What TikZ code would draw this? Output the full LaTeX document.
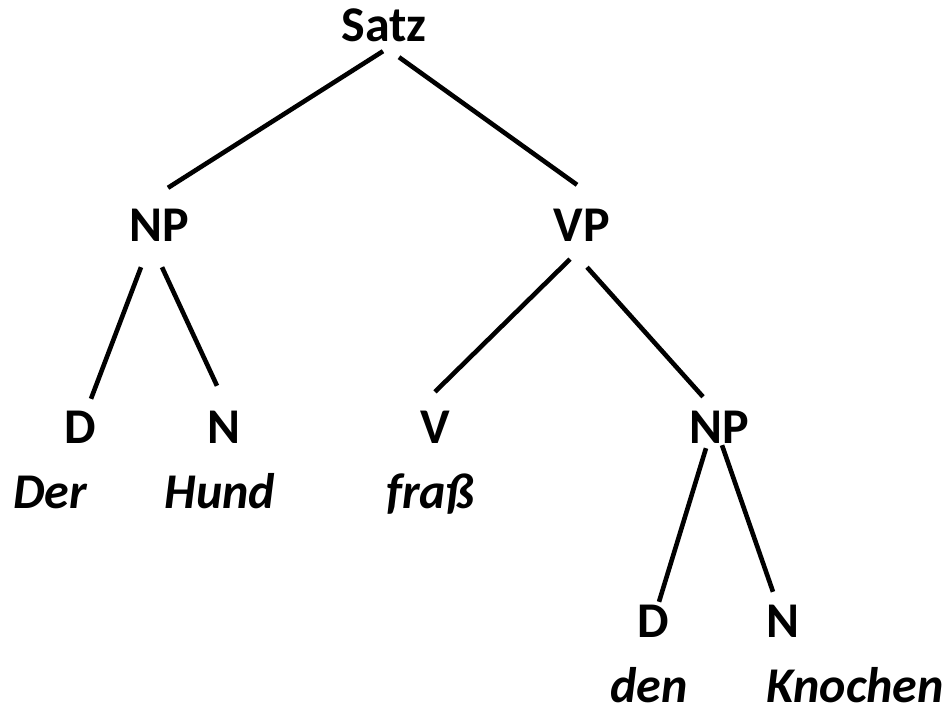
\documentclass[tikz,border=0pt]{standalone}
\usepackage{fontspec}
\setmainfont{Carlito}
\usepackage{tikz}

\tikzset{
  cat/.style={font=\fontsize{50}{60}\selectfont\bfseries, inner sep=0pt, text height=30pt, text depth=0pt, anchor=base},
  word/.style={font=\fontsize{50}{60}\selectfont\bfseries\itshape, inner sep=0pt, text depth=0pt, anchor=base},
  branch/.style={black, line width=4.6pt}
}

\begin{document}
\begin{tikzpicture}[x=1pt, y=-1pt]
\useasboundingbox (0,0) rectangle (947,711);

% CATEGORIES
  \node[cat] (satz) at (384, 42) {Satz};
  \node[cat] (np1)  at (159,242) {NP};
  \node[cat] (vp)   at (582,242) {VP};
  \node[cat] (d1)   at ( 80,443) {D};
  \node[cat] (n1)   at (224,443) {N};
  \node[cat] (v)    at (435,443) {V};
  \node[cat] (np2)  at (719,443) {NP};
  \node[cat] (d2)   at (653,637) {D};
  \node[cat] (n2)   at (783,637) {N};

% WORDS
  \node[word] (der)     at ( 50,508) {Der};
  \node[word] (hund)    at (220,508) {Hund};
  \node[word] (frass)   at (430,508) {fraß};
  \node[word] (den)     at (649,702) {den};
  \node[word] (knochen) at (855,702) {Knochen};

% BRANCHES
  \draw[branch] ([xshift=-1pt,yshift=-9pt]satz.south) -- ([xshift=9pt,yshift=24pt]np1.north);
  \draw[branch] ([xshift=15pt,yshift=-15pt]satz.south) -- ([xshift=-5pt,yshift=27pt]vp.north);

  \draw[branch] ([xshift=-18pt,yshift=-25pt]np1.south) -- ([xshift=11pt,yshift=14pt]d1.north);
  \draw[branch] ([xshift=3pt,yshift=-25pt]np1.south) -- ([xshift=-7pt,yshift=27pt]n1.north);

  \draw[branch] ([xshift=-12pt,yshift=-17pt]vp.south) -- ([xshift=0pt,yshift=21pt]v.north);
  \draw[branch] ([xshift=5pt,yshift=-25pt]vp.south) -- ([xshift=-16pt,yshift=16pt]np2.north);

  \draw[branch] ([xshift=-13pt,yshift=-5pt]np2.south) -- ([xshift=6pt,yshift=5pt]d2.north);
  \draw[branch] ([xshift=3pt,yshift=-2pt]np2.south) -- ([xshift=-10pt,yshift=15pt]n2.north);

\end{tikzpicture}
\end{document}
